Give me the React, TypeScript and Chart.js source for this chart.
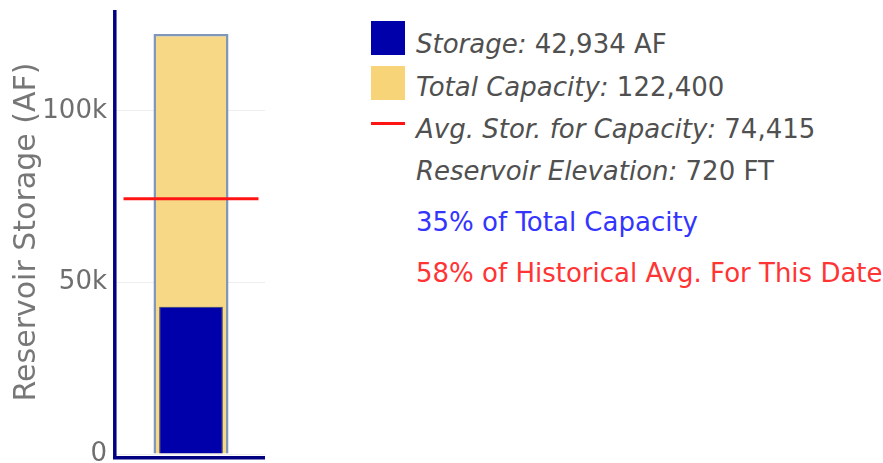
import React, { useEffect, useRef } from "react";
import { Chart, registerables } from "chart.js";

Chart.register(...registerables);

const categories = ["Reservoir"];
const storageValues = [42934];
const capacityValues = [122400];
const avgStorageValues = [74415];
const yMaxValue = 129400;
const yTickValues = [0, 50000, 100000];
const yTickLabels = ["0", "50k", "100k"];
const yAxisTitle = "Reservoir Storage (AF)";
const legendLabels = ["Storage:", "Total Capacity:", "Avg. Stor. for Capacity:", "Reservoir Elevation:"];
const legendValues = ["42,934 AF", "122,400", "74,415", "720 FT"];
const summaryLines = ["35% of Total Capacity", "58% of Historical Avg. For This Date"];

const FONT = "'DejaVu Sans', Verdana, sans-serif";
const BLUE = "#0000aa";
const YELLOW = "#f6d886";
const NAVY = "#000080";

const avgLinePlugin = {
  id: "avgLine",
  afterDatasetsDraw(chart: any) {
    const { ctx, scales } = chart;
    const xs = scales.x;
    const ys = scales.y;
    avgStorageValues.forEach((v, i) => {
      const cx = xs.getPixelForValue(i);
      const half = (xs.width / categories.length) * 0.456;
      const py = ys.getPixelForValue(v);
      ctx.save();
      ctx.strokeStyle = "#ff1414";
      ctx.lineWidth = 3;
      ctx.beginPath();
      ctx.moveTo(cx - half, py);
      ctx.lineTo(cx + half, py);
      ctx.stroke();
      ctx.restore();
    });
  },
};

// axis lines drawn just outside the plot area (like the original)
const axisLinePlugin = {
  id: "axisLines",
  afterDraw(chart: any) {
    const { ctx, chartArea } = chart;
    ctx.save();
    ctx.strokeStyle = NAVY;
    ctx.lineWidth = 3.5;
    ctx.beginPath();
    ctx.moveTo(chartArea.left - 2.2, chartArea.top);
    ctx.lineTo(chartArea.left - 2.2, chartArea.bottom + 5.5);
    ctx.moveTo(chartArea.left - 4, chartArea.bottom + 3.7);
    ctx.lineTo(chartArea.right, chartArea.bottom + 3.7);
    ctx.stroke();
    ctx.restore();
  },
};

function BarChart() {
  const ref = useRef<HTMLCanvasElement>(null);
  useEffect(() => {
    if (!ref.current) return;
    const chart = new Chart(ref.current, {
      type: "bar",
      data: {
        labels: categories,
        datasets: [
          {
            label: "Storage",
            data: storageValues,
            backgroundColor: BLUE,
            borderColor: "#2b3f78",
            borderWidth: 1,
            grouped: false,
            barPercentage: 0.43,
            categoryPercentage: 1,
          } as any,
          {
            label: "Total Capacity",
            data: capacityValues,
            backgroundColor: YELLOW,
            borderColor: "#7f97b8",
            borderWidth: 2.5,
            grouped: false,
            barPercentage: 0.507,
            categoryPercentage: 1,
          } as any,
        ],
      },
      options: {
        animation: false,
        responsive: false,
        maintainAspectRatio: false,
        layout: { padding: { top: 10, right: 10, left: 0, bottom: 0 } },
        plugins: { legend: { display: false }, tooltip: { enabled: false } },
        scales: {
          x: {
            grid: { display: false, drawTicks: false },
            border: { display: false },
            ticks: { display: false },
            afterFit: (s: any) => {
              s.height = 26;
              s.paddingLeft = 0;
              s.paddingRight = 0;
            },
          },
          y: {
            min: 0,
            max: yMaxValue,
            border: { display: false },
            grid: { color: "#eeeeee", lineWidth: 1, drawTicks: false },
            afterBuildTicks: (s: any) => {
              s.ticks = yTickValues.map((v) => ({ value: v }));
            },
            ticks: {
              padding: 10,
              color: "#6e6e6e",
              font: { family: FONT, size: 26 },
              callback: (v: any) => {
                const i = yTickValues.indexOf(Number(v));
                return i >= 0 ? yTickLabels[i] : "";
              },
            },
            title: {
              display: true,
              text: yAxisTitle,
              color: "#777777",
              font: { family: FONT, size: 30 },
              padding: { top: 9, bottom: 0 },
            },
            afterFit: (s: any) => {
              s.width = 117;
              s.paddingTop = 0;
              s.paddingBottom = 0;
            },
          },
        },
      },
      plugins: [avgLinePlugin, axisLinePlugin],
    });
    return () => chart.destroy();
  }, []);
  return (
    <canvas
      ref={ref}
      width={275}
      height={480}
      style={{ position: "absolute", left: 0, top: 0, width: 275, height: 480 }}
    />
  );
}

export default function App() {
  const rowCenters = [44, 87, 129, 171];
  const summaryCenters = [222, 273];
  const summaryColors = ["#3434ff", "#ff3434"];
  const lh = 34;
  return (
    <div
      style={{
        position: "fixed",
        left: 0,
        top: 0,
        width: 883,
        height: 463,
        overflow: "hidden",
        background: "#fff",
        fontFamily: FONT,
      }}
    >
      <BarChart />
      <div style={{ position: "absolute", left: 371, top: 21, width: 34, height: 34, background: BLUE }} />
      <div style={{ position: "absolute", left: 371, top: 66, width: 34, height: 34, background: "#f6d477" }} />
      <div style={{ position: "absolute", left: 371, top: 122, width: 34, height: 3, background: "#ff1414" }} />
      {legendLabels.map((lab, i) => (
        <div
          key={lab}
          style={{
            position: "absolute",
            left: 416,
            top: rowCenters[i] - lh / 2,
            height: lh,
            lineHeight: lh + "px",
            fontSize: 26,
            color: "#505050",
            whiteSpace: "nowrap",
          }}
        >
          <span style={{ fontStyle: "italic" }}>{lab}</span> {legendValues[i]}
        </div>
      ))}
      {summaryLines.map((t, i) => (
        <div
          key={t}
          style={{
            position: "absolute",
            left: 416,
            top: summaryCenters[i] - lh / 2,
            height: lh,
            lineHeight: lh + "px",
            fontSize: 26,
            color: summaryColors[i],
            whiteSpace: "nowrap",
          }}
        >
          {t}
        </div>
      ))}
    </div>
  );
}
